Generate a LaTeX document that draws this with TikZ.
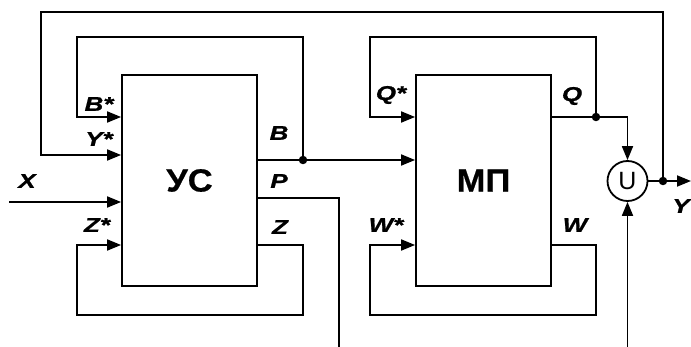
\documentclass[tikz,border=0pt]{standalone}
\usepackage{fontspec}
\setmainfont{Liberation Sans}
\newfontfamily\lblfont[FakeStretch=1.3,FakeBold=1]{Liberation Sans}
\newfontfamily\blkfont[FakeStretch=1.08,FakeBold=0.5]{Liberation Sans}
\usetikzlibrary{arrows.meta}
\tikzset{
  wire/.style={line width=1.8pt},
  sig/.style={wire,-{Triangle[length=14pt,width=11pt]}},
  block/.style={draw,line width=1.8pt,minimum width=135pt,minimum height=211pt,inner sep=0pt,
    font=\blkfont\fontsize{32}{32}\selectfont\bfseries},
  lbl/.style={font=\lblfont\fontsize{20}{20}\selectfont\bfseries\itshape},
  dot/.style={circle,fill,inner sep=0pt,minimum size=8.5pt},
}
\begin{document}
\begin{tikzpicture}[x=1pt,y=-1pt]
  \useasboundingbox (0,0) rectangle (691,347);

  % Blocks
  \node[block] (US) at (189.5,180.5) {УС};
  \node[block] (MP) at (483.5,180.5) {МП};
  \node[draw,circle,line width=1.8pt,minimum size=40pt,inner sep=0pt,
    font=\fontsize{25}{25}\selectfont] (U) at (627.5,181) {U};

  % Junctions and free ends
  \node[dot] (bj) at (303,160) {};
  \node[dot] (qj) at (596,117) {};
  \node[dot] (yj) at (663,181) {};
  \coordinate (xin) at (9,202);
  \coordinate (pend) at (339,347);
  \coordinate (uin) at (627.5,347);
  \coordinate (yout) at (691,181);

  % Inputs of US
  \draw[sig] (xin) -- (US.west |- xin);
  \draw[sig] (yj.center) |- (41,12) |- (US.west |- 0,155);
  \draw[sig] (bj.center) |- (77,37) |- (US.west |- 0,117);
  \draw[sig] (US.east |- 0,245) -| (303,315) -| (77,245) -- (US.west |- 0,245);

  % Outputs of US
  \draw[wire] (US.east |- bj) -- (bj.center);
  \draw[sig] (bj.center) -- (MP.west |- bj);
  \draw[wire] (US.east |- 0,198) -| (pend);

  % MP
  \draw[wire] (MP.east |- qj) -- (qj.center);
  \draw[sig] (qj.center) |- (370,37) |- (MP.west |- qj);
  \draw[sig] (MP.east |- 0,245) -| (596,315) -| (370,245) -- (MP.west |- 0,245);

  % Union
  \draw[sig] (qj.center) -| (U.north);
  \draw[sig] (uin) -- (U.south);
  \draw[wire] (U.east) -- (yj.center);
  \draw[sig] (yj.center) -- (yout);

  % Labels
  \node[lbl] at (99,104) {B*};
  \node[lbl] at (99,139) {Y*};
  \node[lbl] at (27,181) {X};
  \node[lbl] at (97,225) {Z*};
  \node[lbl] at (279,133) {B};
  \node[lbl] at (279,181) {P};
  \node[lbl] at (280,227) {Z};
  \node[lbl] at (391,95) {Q*};
  \node[lbl] at (572,96) {Q};
  \node[lbl] at (386,225) {W*};
  \node[lbl] at (575,225) {W};
  \node[lbl] at (681,206) {Y};
\end{tikzpicture}
\end{document}
